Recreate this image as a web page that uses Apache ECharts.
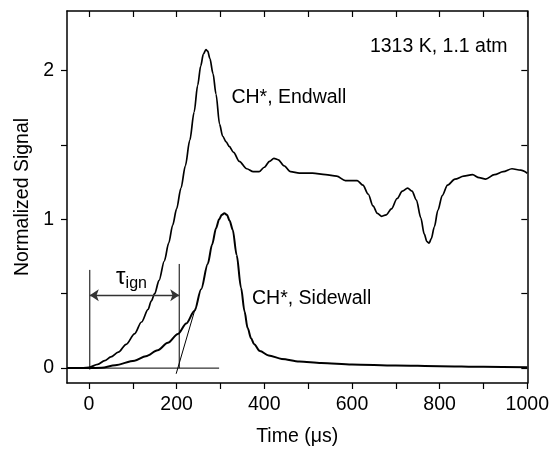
<!DOCTYPE html>
<html>
<head>
<meta charset="utf-8">
<script src="https://cdn.jsdelivr.net/npm/echarts@6/dist/echarts.min.js"></script>
<style>html,body{margin:0;padding:0;background:#fff}#c{width:552px;height:452px}</style>
</head>
<body>
<div id="c"></div>
<script>
// ---- data ----
const endTime = [-50,-25,0,20,36,50,67,85,104,120,135,142,150,160,172,182,191,200,210,220,230,240,248,255,261,267,271,276,283,290,298,305,313,320,330,343,360,375,388,400,412,422,432,445,460,480,510,540,565,585,600,612,625,637,648,658,668,678,690,703,715,727,737,747,757,765,771,776,781,788,796,806,818,835,855,875,890,905,925,945,965,985,1000];
const endSignal = [0.0,0.0,0.005,0.025,0.05,0.075,0.107,0.16,0.23,0.31,0.395,0.45,0.5,0.59,0.72,0.84,0.96,1.07,1.21,1.36,1.53,1.72,1.9,2.03,2.11,2.14,2.13,2.08,1.98,1.84,1.64,1.56,1.52,1.49,1.45,1.39,1.34,1.32,1.32,1.35,1.39,1.41,1.40,1.36,1.32,1.31,1.31,1.30,1.29,1.26,1.26,1.26,1.23,1.17,1.09,1.04,1.02,1.03,1.07,1.14,1.19,1.21,1.19,1.13,1.01,0.90,0.85,0.84,0.87,0.95,1.06,1.16,1.23,1.27,1.29,1.30,1.28,1.27,1.30,1.32,1.34,1.33,1.31];
const sideTime = [-50,-20,0,29,60,104,130,157,180,203,222,241,256,271,281,290,297,303,309,315,321,328,337,347,355,362,370,377,390,410,440,480,530,600,700,800,900,1000];
const sideSignal = [0,0,0,0.003,0.02,0.05,0.08,0.12,0.17,0.23,0.3,0.385,0.53,0.70,0.83,0.94,1.0,1.03,1.04,1.03,0.99,0.93,0.76,0.54,0.38,0.27,0.2,0.16,0.115,0.085,0.062,0.045,0.035,0.025,0.018,0.013,0.009,0.006];
const xTicks = [0,100,200,300,400,500,600,700,800,900,1000];
const xLabels = [0,200,400,600,800,1000];
const yTicks = [0,0.5,1,1.5,2];
const yLabels = [0,1,2];
// construction lines (data coordinates)
const baseLine = [[-50,0],[297,0]];
const startLine = [[2,-0.01],[2,0.66]];
const endLine = [[206,0],[206,0.70]];
const tangentLine = [[199,-0.038],[243,0.405]];
const arrowSpan = [[2,0.489],[206,0.489]];
// annotations [x, y, text]
const notes = [
  [325,1.82,'CH*, Endwall'],
  [641,2.16,'1313 K, 1.1 atm'],
  [372,0.465,'CH*, Sidewall']
];
const tauPos = [62,0.607];

const FONT = 'Liberation Sans, Arial, Helvetica, sans-serif';
const FS = 19.5;
const zip = (a,b)=>a.map((v,i)=>[v,b[i]]);

const chart = echarts.init(document.getElementById('c'), null, {renderer:'canvas'});
const axisCommon = {
  type:'value',
  splitLine:{show:false},
  axisLine:{show:true,onZero:false,lineStyle:{color:'#000',width:1.5}},
};
const thin = (data,w)=>({type:'line',data,symbol:'none',silent:true,animation:false,
  lineStyle:{color:'#000',width:w||1},z:3});
const fmt = v => String(v);

chart.setOption({
  animation:false,
  grid:{left:67,right:23,top:11,bottom:66},
  xAxis:[
    Object.assign({},axisCommon,{min:-50,max:1000,position:'bottom',
      axisTick:{show:true,length:6,customValues:xTicks,lineStyle:{color:'#000',width:1.2}},
      axisLabel:{customValues:xLabels,formatter:fmt,fontSize:FS,color:'#000',fontFamily:FONT,margin:12},
      name:'Time (\u03bcs)',nameLocation:'middle',nameGap:44,
      nameTextStyle:{fontSize:FS,color:'#000',fontFamily:FONT}}),
    Object.assign({},axisCommon,{min:-50,max:1000,position:'top',
      axisTick:{show:true,inside:true,length:6,customValues:xTicks,lineStyle:{color:'#000',width:1.2}},
      axisLabel:{show:false}})
  ],
  yAxis:[
    Object.assign({},axisCommon,{min:-0.1,max:2.4,position:'left',
      axisTick:{show:true,length:6,customValues:yTicks,lineStyle:{color:'#000',width:1.2}},
      axisLabel:{customValues:yLabels,formatter:fmt,fontSize:FS,color:'#000',fontFamily:FONT,margin:13},
      name:'Normalized Signal',nameLocation:'middle',nameGap:33,nameRotate:90,
      nameTextStyle:{fontSize:FS,color:'#000',fontFamily:FONT}}),
    Object.assign({},axisCommon,{min:-0.1,max:2.4,position:'right',
      axisTick:{show:true,inside:true,length:6,customValues:yTicks,lineStyle:{color:'#000',width:1.2}},
      axisLabel:{show:false}})
  ],
  series:[
    {type:'line',name:'Endwall',data:zip(endTime,endSignal),symbol:'none',smooth:0.3,smoothMonotone:'x',
      lineStyle:{color:'#000',width:1.7},z:4},
    {type:'line',name:'Sidewall',data:zip(sideTime,sideSignal),symbol:'none',smooth:0.3,smoothMonotone:'x',
      lineStyle:{color:'#000',width:2},z:4},
    thin(baseLine,1),
    thin(startLine,1),
    thin(endLine,1),
    thin(tangentLine,1),
    {type:'line',data:[],symbol:'none',silent:true,
      markLine:{silent:true,symbol:['arrow','arrow'],symbolSize:[9,9],
        lineStyle:{color:'#333',width:1.3,type:'solid'},label:{show:false},
        data:[[{coord:arrowSpan[0]},{coord:arrowSpan[1]}]]}},
    {type:'scatter',symbolSize:0,silent:true,z:5,itemStyle:{opacity:1},
      data:notes.map(n=>({value:[n[0],n[1]],name:n[2]})),
      label:{show:true,position:'right',distance:0,formatter:p=>p.name,opacity:1,
        fontSize:FS,color:'#000',fontFamily:FONT}},
    {type:'scatter',symbolSize:0,silent:true,z:5,itemStyle:{opacity:1},
      data:[{value:tauPos}],
      label:{show:true,position:'right',distance:0,opacity:1,
        formatter:'{t|\u03c4}{s|ign}',
        rich:{t:{fontSize:24,color:'#000',fontFamily:FONT},
              s:{fontSize:16,color:'#000',fontFamily:FONT,padding:[12,0,0,0]}}}}
  ]
});
</script>
</body>
</html>
